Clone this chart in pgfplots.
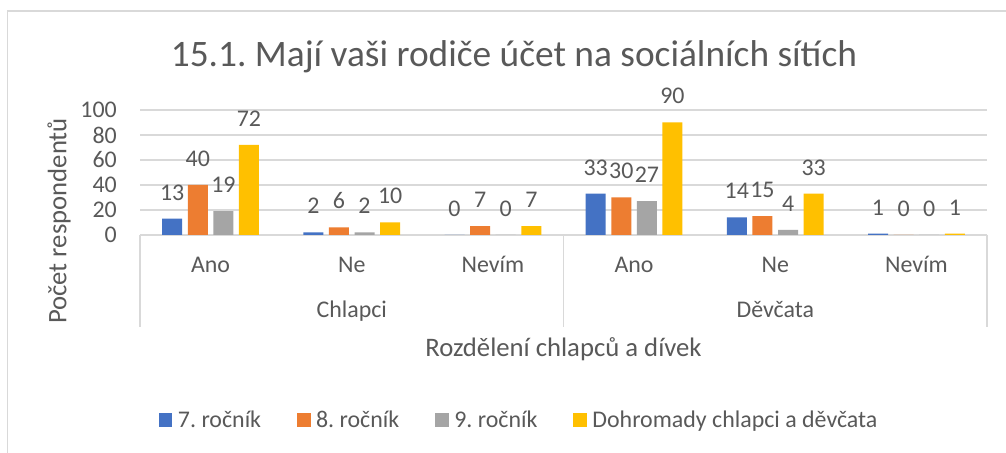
\documentclass[border=0pt]{standalone}
\usepackage{fontspec}
\setmainfont{Carlito}
\usepackage{pgfplots}
\pgfplotsset{compat=1.18}
\frenchspacing
\definecolor{c7}{HTML}{4472C4}
\definecolor{c8}{HTML}{ED7D31}
\definecolor{c9}{HTML}{A5A5A5}
\definecolor{cd}{HTML}{FFC000}
\definecolor{txt}{HTML}{595959}
\definecolor{gridc}{HTML}{D9D9D9}
\newcommand{\lab}{\fontsize{24}{24}\selectfont}
\newcommand{\axt}{\fontsize{26.8}{26.8}\selectfont}
\begin{document}
\frenchspacing
\begin{tikzpicture}[x=1bp,y=1bp]
\useasboundingbox (0,0) rectangle (1006,453);
\fill[white] (0,0) rectangle (1006,453);
\draw[gridc, line width=1.5bp] (7.5,0) -- (7.5,442) -- (1006,442);
\begin{axis}[
  at={(140bp,218bp)}, anchor=south west,
  scale only axis, width=847bp, height=125bp,
  xmin=-0.5, xmax=5.5, ymin=0, ymax=100,
  ybar=5.6bp, bar width=20bp,
  ytick={0,20,...,100}, xtick=\empty,
  ymajorgrids, grid style={gridc, line width=1.2bp},
  axis line style={draw=none},
  major tick length=0pt,
  /pgf/number format/assume math mode=true,
  tick label style={font=\lab, text=txt},
  yticklabel style={inner sep=0pt, xshift=-23bp},
  clip=false,
  nodes near coords,
  every node near coord/.append style={anchor=base, yshift=18.5bp, inner sep=0pt, font=\lab, text=txt},
  every axis plot/.append style={draw=none,
    legend image code/.code={\fill[##1] (0bp,-6.75bp) rectangle (13.5bp,6.75bp);}},
  legend columns=4,
  legend style={at={(0.0224,-1.48)}, anchor=west, draw=none, fill=none,
    inner sep=0pt, outer sep=0pt,
    nodes={inner sep=0pt, text=txt, font=\lab},
    /tikz/every odd column/.append style={column sep=5.5bp},
    /tikz/every even column/.append style={column sep=36bp}},
  legend cell align=left,
]
\addplot[fill=c7] coordinates {(0,13) (1,2) (2,0) (3,33) (4,14) (5,1)};
\addplot[fill=c8] coordinates {(0,40) (1,6) (2,7) (3,30) (4,15) (5,0)};
\addplot[fill=c9] coordinates {(0,19) (1,2) (2,0) (3,27) (4,4) (5,0)};
\addplot[fill=cd] coordinates {(0,72) (1,10) (2,7) (3,90) (4,33) (5,1)};
\legend{7. ročník, 8. ročník, 9. ročník, Dohromady chlapci a děvčata}
\draw[gridc, line width=1.2bp] (axis cs:-0.5,0) -- ([yshift=-92bp]axis cs:-0.5,0);
\draw[gridc, line width=1.2bp] (axis cs:2.5,0) -- ([yshift=-92bp]axis cs:2.5,0);
\draw[gridc, line width=1.2bp] (axis cs:5.5,0) -- ([yshift=-92bp]axis cs:5.5,0);
\node[anchor=base, font=\lab, text=txt] at ([yshift=-38bp]axis cs:0,0) {Ano};
\node[anchor=base, font=\lab, text=txt] at ([yshift=-38bp]axis cs:1,0) {Ne};
\node[anchor=base, font=\lab, text=txt] at ([yshift=-38bp]axis cs:2,0) {Nevím};
\node[anchor=base, font=\lab, text=txt] at ([yshift=-38bp]axis cs:3,0) {Ano};
\node[anchor=base, font=\lab, text=txt] at ([yshift=-38bp]axis cs:4,0) {Ne};
\node[anchor=base, font=\lab, text=txt] at ([yshift=-38bp]axis cs:5,0) {Nevím};
\node[anchor=base, font=\lab, text=txt] at ([yshift=-83bp]axis cs:1,0) {Chlapci};
\node[anchor=base, font=\lab, text=txt] at ([yshift=-83bp]axis cs:4,0) {Děvčata};
\node[anchor=base, font=\axt, text=txt] at ([yshift=-122bp]axis cs:2.5,0) {Rozdělení chlapců a dívek};
\end{axis}
\node[anchor=base, font=\fontsize{37.5}{37.5}\selectfont, text=txt] at (514,386) {15.1. Mají vaši rodiče účet na sociálních sítích};
\node[rotate=90, font=\axt, text=txt] at (59,232) {Počet respondentů};
\end{tikzpicture}
\end{document}
